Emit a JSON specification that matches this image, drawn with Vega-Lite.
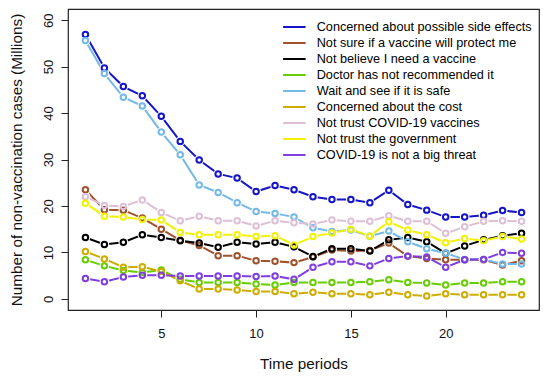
{
  "$schema": "https://vega.github.io/schema/vega-lite/v6.json",
  "autosize": "none",
  "width": 471,
  "height": 301,
  "padding": {"left": 68, "top": 9, "right": 11, "bottom": 70},
  "background": "white",
  "config": {
    "view": {"stroke": "#222", "strokeWidth": 1.2},
    "font": "Liberation Sans",
    "axis": {"grid": false, "domain": false, "tickColor": "#222", "tickSize": 7, "labelColor": "#111", "titleColor": "#111", "labelFont": "Liberation Sans", "titleFont": "Liberation Sans", "titleFontWeight": "normal", "labelFontSize": 13, "titleFontSize": 15.3}
  },
  "data": {
    "values": [
      {"t":1,"a":56.9,"b":23.5,"c":13.2,"d":8.4,"e":55.6,"f":10.2,"g":22.0,"h":20.6,"i":4.4},
      {"t":2,"a":49.7,"b":19.2,"c":11.7,"d":7.1,"e":48.5,"f":8.6,"g":20.1,"h":17.8,"i":3.7},
      {"t":3,"a":45.7,"b":19.1,"c":12.2,"d":6.1,"e":43.4,"f":6.8,"g":19.9,"h":17.6,"i":4.7},
      {"t":4,"a":43.7,"b":17.4,"c":13.8,"d":5.7,"e":41.5,"f":6.9,"g":21.3,"h":17.1,"i":5.1},
      {"t":5,"a":39.3,"b":15.0,"c":13.2,"d":6.2,"e":35.9,"f":5.9,"g":18.6,"h":17.0,"i":5.1},
      {"t":6,"a":33.9,"b":12.6,"c":12.5,"d":4.2,"e":31.0,"f":3.9,"g":16.8,"h":14.3,"i":4.9},
      {"t":7,"a":29.9,"b":11.5,"c":12.0,"d":3.5,"e":24.5,"f":2.1,"g":17.8,"h":13.8,"i":4.9},
      {"t":8,"a":26.9,"b":9.3,"c":11.1,"d":3.5,"e":22.9,"f":2.1,"g":16.8,"h":13.8,"i":4.9},
      {"t":9,"a":26.0,"b":9.3,"c":12.2,"d":3.5,"e":20.7,"f":1.9,"g":16.8,"h":13.8,"i":4.9},
      {"t":10,"a":23.1,"b":8.2,"c":11.8,"d":3.2,"e":18.8,"f":1.6,"g":15.7,"h":13.4,"i":4.8},
      {"t":11,"a":24.4,"b":8.1,"c":12.2,"d":3.0,"e":18.4,"f":1.6,"g":16.8,"h":13.6,"i":4.9},
      {"t":12,"a":23.5,"b":7.8,"c":11.2,"d":3.5,"e":17.6,"f":1.1,"g":16.4,"h":11.6,"i":4.2},
      {"t":13,"a":22.0,"b":9.0,"c":9.1,"d":3.5,"e":15.3,"f":1.4,"g":16.1,"h":13.4,"i":6.8},
      {"t":14,"a":21.4,"b":10.5,"c":10.8,"d":3.5,"e":14.5,"f":1.1,"g":17.0,"h":14.2,"i":8.0},
      {"t":15,"a":21.4,"b":10.3,"c":10.8,"d":3.5,"e":14.8,"f":1.1,"g":16.7,"h":15.0,"i":8.0},
      {"t":16,"a":20.7,"b":10.4,"c":10.3,"d":3.7,"e":13.5,"f":0.9,"g":16.7,"h":13.5,"i":7.1},
      {"t":17,"a":23.4,"b":12.0,"c":12.7,"d":4.1,"e":14.6,"f":1.4,"g":17.9,"h":16.6,"i":8.7},
      {"t":18,"a":20.3,"b":9.2,"c":13.2,"d":3.5,"e":12.3,"f":0.9,"g":16.7,"h":14.8,"i":9.2},
      {"t":19,"a":19.1,"b":8.7,"c":12.3,"d":3.4,"e":10.8,"f":0.6,"g":16.7,"h":13.8,"i":9.0},
      {"t":20,"a":17.6,"b":8.4,"c":9.8,"d":3.0,"e":9.8,"f":1.1,"g":14.1,"h":12.1,"i":6.8},
      {"t":21,"a":17.6,"b":8.4,"c":11.4,"d":3.4,"e":8.5,"f":0.9,"g":15.5,"h":13.0,"i":8.4},
      {"t":22,"a":18.0,"b":8.4,"c":12.7,"d":3.4,"e":8.5,"f":0.9,"g":16.7,"h":12.5,"i":8.5},
      {"t":23,"a":19.0,"b":7.3,"c":13.6,"d":3.7,"e":7.5,"f":0.9,"g":16.8,"h":13.4,"i":10.0},
      {"t":24,"a":18.6,"b":8.2,"c":14.1,"d":3.7,"e":7.5,"f":0.9,"g":16.7,"h":12.9,"i":9.8}
    ]
  },
  "transform": [
    {"fold": ["a","b","c","d","e","f","g","h","i"], "as": ["k","v"]},
    {"lookup": "k", "from": {"data": {"values": [
      {"k":"a","s":"Concerned about possible side effects","o":1},
      {"k":"b","s":"Not sure if a vaccine will protect me","o":2},
      {"k":"c","s":"Not believe I need a vaccine","o":3},
      {"k":"d","s":"Doctor has not recommended it","o":4},
      {"k":"e","s":"Wait and see if it is safe","o":5},
      {"k":"f","s":"Concerned about the cost","o":6},
      {"k":"g","s":"Not trust COVID-19 vaccines","o":7},
      {"k":"h","s":"Not trust the government","o":8},
      {"k":"i","s":"COVID-19 is not a big threat","o":9}
    ]}, "key": "k", "fields": ["s","o"]}}
  ],
  "encoding": {
    "x": {"field": "t", "type": "quantitative", "scale": {"domain": [0.08, 24.92], "nice": false, "zero": false}, "axis": {"values": [5,10,15,20], "title": "Time periods", "labelPadding": 10, "titlePadding": 16}},
    "y": {"field": "v", "type": "quantitative", "scale": {"domain": [-2.4, 62.4], "nice": false, "zero": false}, "axis": {"values": [0,10,20,30,40,50,60], "title": "Number of non-vaccination cases (Millions)", "labelAngle": -90, "labelAlign": "center", "labelBaseline": "bottom", "labelPadding": 6, "titlePadding": 18}}
  },
  "layer": [
    {
      "mark": {"type": "line", "strokeWidth": 2},
      "encoding": {
        "detail": {"field": "s"},
        "order": {"field": "t"},
        "color": {"field": "s", "type": "nominal",
          "scale": {"domain": ["Concerned about possible side effects","Not sure if a vaccine will protect me","Not believe I need a vaccine","Doctor has not recommended it","Wait and see if it is safe","Concerned about the cost","Not trust COVID-19 vaccines","Not trust the government","COVID-19 is not a big threat"],
            "range": ["#1515C8","#A0522D","#000000","#66CD00","#74B9E8","#CDAD00","#DDBFD6","#F2F200","#7F3FE0"]},
          "legend": {"title": null, "orient": "none", "legendX": 217.85, "legendY": 9.5, "padding": 0, "symbolType": "M-1.5,0H1.5", "symbolSize": 225, "symbolStrokeWidth": 2, "rowPadding": -1.5, "labelOffset": 13.85, "labelFontSize": 12.7, "labelFont": "Liberation Sans", "labelColor": "#000", "labelLimit": 400}}
      }
    },
    {
      "mark": {"type": "point", "filled": true, "shape": "circle", "size": 95, "color": "white", "opacity": 1},
      "encoding": {"detail": {"field": "s"}}
    },
    {
      "mark": {"type": "point", "filled": false, "shape": "circle", "size": 30, "strokeWidth": 2, "opacity": 1},
      "encoding": {"color": {"field": "s", "type": "nominal", "legend": null}}
    }
  ]
}
